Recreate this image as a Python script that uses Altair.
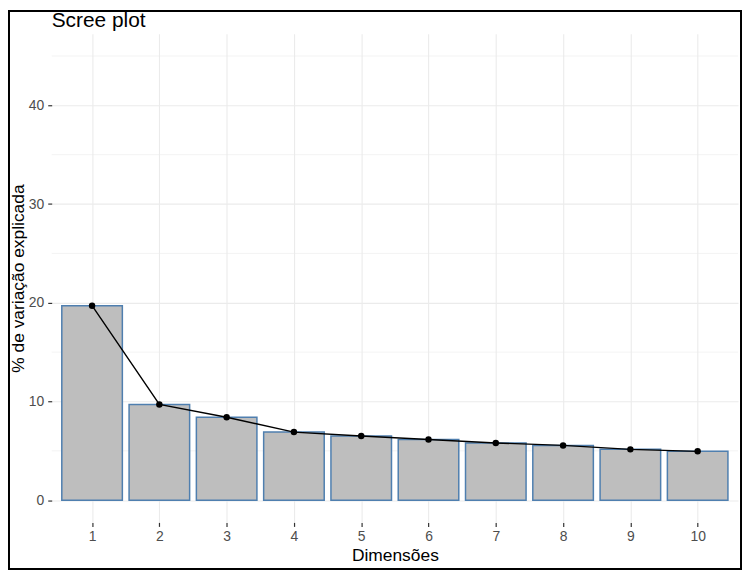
import altair as alt
import pandas as pd

# ---- data ----
dims = [1, 2, 3, 4, 5, 6, 7, 8, 9, 10]
explained = [19.7, 9.7, 8.4, 6.9, 6.5, 6.15, 5.8, 5.55, 5.15, 4.95]
y_ticks = [0, 10, 20, 30, 40]
minor_y = [5, 15, 25, 35, 45]

df = pd.DataFrame({"dim": dims, "pct": explained})
minor_df = pd.DataFrame({"v": minor_y})
frame_df = pd.DataFrame({"a": [0]})

W, H = 691, 492
FONT = "Liberation Sans"
GRID = "#EBEBEB"

xscale = alt.Scale(domain=[0.4, 10.6], nice=False, zero=False)
yscale = alt.Scale(domain=[-2.25, 47.25], nice=False, zero=False)

xaxis = alt.Axis(values=dims, format="d", grid=True, gridColor=GRID, gridWidth=1.1,
                 domain=False, tickColor="#333333", tickSize=4, tickWidth=1.2,
                 labelColor="#4D4D4D", labelFontSize=14, labelFont=FONT, labelPadding=3,
                 title="Dimensões", titleFont=FONT, titleFontSize=17.5,
                 titleFontWeight="normal", titleColor="black", titlePadding=3)
yaxis = alt.Axis(values=y_ticks, format="d", grid=True, gridColor=GRID, gridWidth=1.1,
                 domain=False, tickColor="#333333", tickSize=4, tickWidth=1.2,
                 labelColor="#4D4D4D", labelFontSize=14, labelFont=FONT, labelPadding=4,
                 title="% de variação explicada", titleFont=FONT, titleFontSize=17.5,
                 titleFontWeight="normal", titleColor="black", titlePadding=1)

def X(field):
    return alt.X(field, scale=xscale, axis=xaxis)

def Y(field):
    return alt.Y(field, scale=yscale, axis=yaxis)

minor = alt.Chart(minor_df).mark_rule(color=GRID, strokeWidth=0.6).encode(y=Y("v:Q"))

bars = alt.Chart(df).transform_calculate(
    lo="datum.dim - 0.45", hi="datum.dim + 0.45"
).mark_bar(fill="#BEBEBE", stroke="#4F7FAF", strokeWidth=1.5).encode(
    x=X("lo:Q"), x2="hi:Q", y=Y("pct:Q"), y2=alt.datum(0)
)

line = alt.Chart(df).mark_line(color="black", strokeWidth=1.4).encode(
    x=X("dim:Q"), y=Y("pct:Q")
)
points = alt.Chart(df).mark_point(filled=True, color="black", size=42, opacity=1).encode(
    x=X("dim:Q"), y=Y("pct:Q")
)

frame = alt.Chart(frame_df).mark_rect(filled=False, stroke="black", strokeWidth=2).encode(
    x=alt.value(-43), x2=alt.value(W + 3), y=alt.value(-23), y2=alt.value(H + 47)
)

chart = alt.layer(minor, bars, line, points, frame).properties(
    width=W, height=H,
    autosize=alt.AutoSizeParams(type="none"),
    padding={"left": 44, "top": 24, "right": 4, "bottom": 48},
    title=alt.Title("Scree plot", anchor="start", frame="group", fontSize=21, font=FONT,
                    fontWeight="normal", color="black", offset=-21),
    background="white",
).configure_view(stroke=None)

chart.save("out.html", embed_options={"renderer": "svg", "actions": False})
